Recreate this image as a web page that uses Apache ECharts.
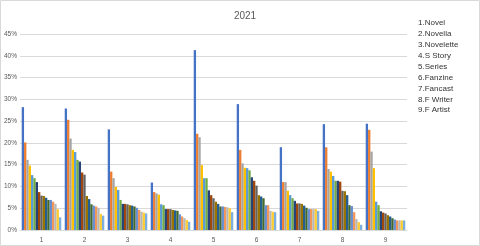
<!DOCTYPE html>
<html>
<head>
<meta charset="utf-8">
<script src="https://cdn.jsdelivr.net/npm/echarts@6/dist/echarts.min.js"></script>
<style>
html,body{margin:0;padding:0;background:#fff;}
#chart{width:480px;height:246px;}
</style>
</head>
<body>
<div id="chart"></div>
<script>
// Category labels (x axis) and the legend-like text box
const categories = ['1','2','3','4','5','6','7','8','9'];
const categoryNames = ['1.Novel','2.Novella','3.Novelette','4.S Story','5.Series','6.Fanzine','7.Fancast','8.F Writer','9.F Artist'];
const yTicks = [0,5,10,15,20,25,30,35,40,45];

// Percentages for each ranked entry (rank 1..17) within each category
const cat1 = [28.2,20.1,16.1,14.8,12.6,11.9,11.0,8.7,7.9,7.8,7.4,6.9,6.9,6.5,6.0,4.8,2.9];
const cat2 = [27.9,25.3,21.0,18.4,17.9,16.1,15.7,13.2,12.7,7.8,7.1,5.9,5.6,5.4,5.1,3.7,3.3];
const cat3 = [23.1,13.4,11.9,9.9,9.2,6.9,6.0,6.0,5.9,5.7,5.6,5.4,5.1,4.6,4.2,4.0,3.8];
const cat4 = [10.9,8.7,8.4,8.1,5.9,5.7,4.8,4.8,4.8,4.6,4.5,4.4,3.6,3.1,2.7,2.3,1.9];
const cat5 = [41.3,22.1,21.3,14.9,11.9,11.9,9.1,8.0,7.3,6.5,6.0,5.4,5.4,5.3,5.2,5.0,4.1];
const cat6 = [28.9,18.4,15.3,14.3,14.2,13.7,12.1,11.3,10.2,8.0,7.7,7.3,5.7,5.7,4.4,4.2,4.1];
const cat7 = [19.0,11.0,11.0,9.0,8.0,7.3,6.7,6.1,6.1,6.0,5.6,5.1,4.8,4.8,4.8,4.8,4.4];
const cat8 = [24.3,19.0,14.0,13.4,12.4,11.3,11.3,11.1,9.0,8.9,8.0,5.7,5.5,4.1,2.5,1.8,1.2];
const cat9 = [24.4,23.0,18.0,14.2,6.5,5.7,4.3,4.0,3.8,3.4,3.1,2.7,2.4,2.2,2.2,2.2,2.2];

const palette = ['#4472C4','#ED7D31','#A5A5A5','#FFC000','#5B9BD5','#70AD47',
                 '#264478','#9E480E','#636363','#997300','#255E91','#43682B',
                 '#698ED0','#F1975A','#B7B7B7','#FFCD33','#7CAFDD'];

const groups = [cat1,cat2,cat3,cat4,cat5,cat6,cat7,cat8,cat9];
const rankCount = 17;
const series = [];
for (let r = 0; r < rankCount; r++) {
  series.push({
    type: 'bar',
    name: 'Rank ' + (r + 1),
    data: groups.map(g => g[r] === undefined ? null : g[r]),
    barGap: '0%',
    barCategoryGap: '8%',
    itemStyle: { color: palette[r % palette.length] },
    silent: true
  });
}

const chart = echarts.init(document.getElementById('chart'), null, { renderer: 'canvas' });
const legendTexts = categoryNames.map((t, i) => ({
  type: 'text',
  left: 418,
  top: 19 + i * 10.9,
  style: { text: t, font: '8px "Liberation Sans", sans-serif', fill: '#333333' }
}));

chart.setOption({
  animation: false,
  backgroundColor: '#ffffff',
  title: {
    text: '2021',
    left: 240,
    top: 6,
    textAlign: 'center',
    textStyle: { fontFamily: 'Liberation Sans', fontSize: 10, fontWeight: 'normal', color: '#595959' }
  },
  grid: { left: 20, right: 73, top: 34, bottom: 16, containLabel: false },
  xAxis: {
    type: 'category',
    data: categories,
    axisTick: { show: false },
    axisLine: { lineStyle: { color: '#d9d9d9', width: 1 } },
    axisLabel: { color: '#595959', fontSize: 6.5, fontFamily: 'Liberation Sans', margin: 7 }
  },
  yAxis: {
    type: 'value',
    min: yTicks[0],
    max: yTicks[yTicks.length - 1],
    interval: yTicks[1] - yTicks[0],
    axisLine: { show: false },
    axisTick: { show: false },
    splitLine: { lineStyle: { color: '#d9d9d9', width: 1 } },
    axisLabel: { color: '#595959', fontSize: 6.5, fontFamily: 'Liberation Sans', margin: 3, formatter: '{value}%' }
  },
  series: series,
  graphic: [
    { type: 'rect', shape: { x: 0.5, y: 0.5, width: 479, height: 245 }, style: { fill: 'none', stroke: '#d9d9d9', lineWidth: 1 }, silent: true }
  ].concat(legendTexts)
});
</script>
</body>
</html>
